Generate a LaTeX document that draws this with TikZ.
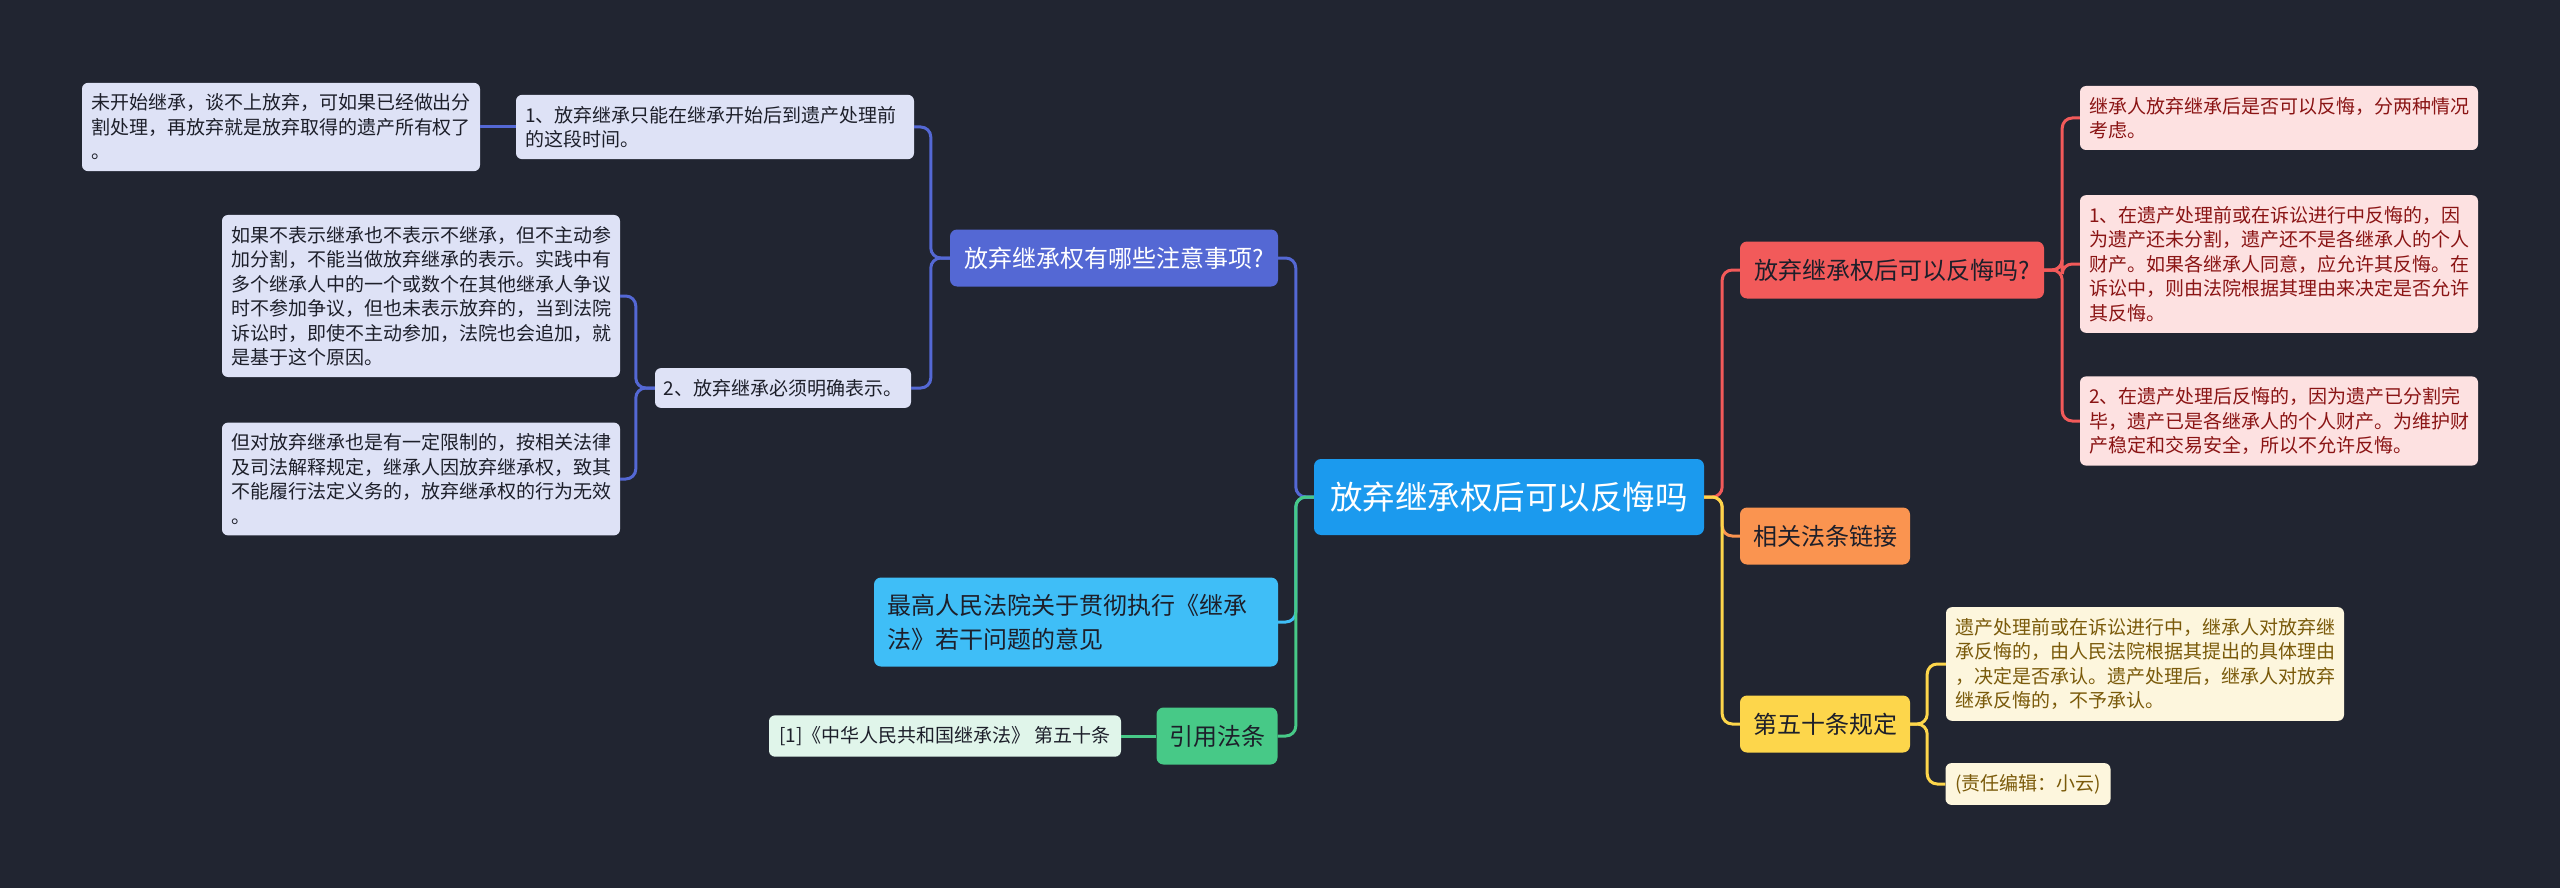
\documentclass[tikz,border=0pt]{standalone}
\usepackage{fontspec}
\setmainfont{Noto Sans CJK SC}

\definecolor{canvas}{HTML}{212531}
\definecolor{rootblue}{HTML}{1B9AEE}
\definecolor{qblue}{HTML}{5468D4}
\definecolor{qpale}{HTML}{DEE2F6}
\definecolor{lawblue}{HTML}{3FBEF7}
\definecolor{citegreen}{HTML}{47C987}
\definecolor{citepale}{HTML}{E0F5EA}
\definecolor{askred}{HTML}{F25A5A}
\definecolor{askpale}{HTML}{FDE1E1}
\definecolor{askink}{HTML}{8A1414}
\definecolor{linkorange}{HTML}{FA9450}
\definecolor{ruleyellow}{HTML}{FDD64B}
\definecolor{rulepale}{HTML}{FDF6DD}
\definecolor{ruleink}{HTML}{7A5A0A}
\definecolor{ink}{HTML}{1D1F2A}

\begin{document}
\begin{tikzpicture}[x=1pt,
            y=-1pt,
            box/.style={rounded corners=7pt, inner sep=0pt, align=center, text=ink},
            root/.style={box, fill=rootblue, text=white, minimum width=390pt,
                         minimum height=76pt, font=\fontsize{32.5pt}{38pt}\selectfont},
            topic/.style={box, minimum height=57pt, font=\fontsize{24pt}{34pt}\selectfont},
            leaf/.style={rounded corners=6pt, inner xsep=9pt, inner ysep=11pt,
                         text width=380pt, align=left, font=\fontsize{19pt}{24.5pt}\selectfont},
            bleaf/.style={leaf, fill=qpale, text=ink},
            rleaf/.style={leaf, fill=askpale, text=askink},
            yleaf/.style={leaf, fill=rulepale, text=ruleink},
            elbow/.style={to path={-- ++(#1,0) |- (\tikztotarget)}},
            link/.style={line width=3pt, rounded corners=10pt}]

        \fill[canvas] (0,0) rectangle (2560,888);
        \useasboundingbox (0,0) rectangle (2560,888);

        \node[root] (root) at (1509,497) {放弃继承权后可以反悔吗};

        % left side
        \node[topic, fill=qblue, text=white, minimum width=328pt] (care) at (1114,258) {放弃继承权有哪些注意事项?};
        \node[topic, fill=lawblue, text width=378pt, inner xsep=13pt, align=left,
              minimum height=89pt]                              (law)  at (1076,622) {最高人民法院关于贯彻执行《继承\\法》若干问题的意见};
        \node[topic, fill=citegreen, minimum width=121pt]     (cite) at (1217,736) {引用法条};

        \node[bleaf] (timing) at (715,127) {1、放弃继承只能在继承开始后到遗产处理前\\的这段时间。};
        \node[bleaf] (before) at (281,127) {未开始继承，谈不上放弃，可如果已经做出分\\割处理，再放弃就是放弃取得的遗产所有权了\\。};
        \node[bleaf, text width=, inner xsep=4pt, minimum width=256pt] (clear) at (783,388) {2、放弃继承必须明确表示。};
        \node[bleaf] (silent) at (421,296) {如果不表示继承也不表示不继承，但不主动参\\加分割，不能当做放弃继承的表示。实践中有\\多个继承人中的一个或数个在其他继承人争议\\时不参加争议，但也未表示放弃的，当到法院\\诉讼时，即使不主动参加，法院也会追加，就\\是基于这个原因。};
        \node[bleaf] (limit)  at (421,479) {但对放弃继承也是有一定限制的，按相关法律\\及司法解释规定，继承人因放弃继承权，致其\\不能履行法定义务的，放弃继承权的行为无效\\。};
        \node[leaf, fill=citepale, text=ink, text width=, inner xsep=4pt, minimum width=352pt] (article) at (945,736) {[1]《中华人民共和国继承法》 第五十条};

        % right side
        \node[topic, fill=askred, minimum width=304pt]        (ask)   at (1892,270) {放弃继承权后可以反悔吗?};
        \node[topic, fill=linkorange, minimum width=170pt]    (links) at (1825,536) {相关法条链接};
        \node[topic, fill=ruleyellow, minimum width=170pt]    (rule)  at (1825,724) {第五十条规定};

        \node[rleaf] (twoways) at (2279,118) {继承人放弃继承后是否可以反悔，分两种情况\\考虑。};
        \node[rleaf] (undone)  at (2279,264) {1、在遗产处理前或在诉讼进行中反悔的，因\\为遗产还未分割，遗产还不是各继承人的个人\\财产。如果各继承人同意，应允许其反悔。在\\诉讼中，则由法院根据其理由来决定是否允许\\其反悔。};
        \node[rleaf] (done)    at (2279,421) {2、在遗产处理后反悔的，因为遗产已分割完\\毕，遗产已是各继承人的个人财产。为维护财\\产稳定和交易安全，所以不允许反悔。};
        \node[yleaf] (court)   at (2145,664) {遗产处理前或在诉讼进行中，继承人对放弃继\\承反悔的，由人民法院根据其提出的具体理由\\，决定是否承认。遗产处理后，继承人对放弃\\继承反悔的，不予承认。};
        \node[yleaf, text width=, inner xsep=4pt, minimum width=165pt] (editor) at (2028,784) {(责任编辑：小云)};

        \path (root.west)  edge [link, elbow=-18, draw=qblue]      (care.east)
                           edge [link, elbow=-18, draw=lawblue]    (law.east)
                           edge [link, elbow=-18, draw=citegreen]  (cite.east)
              (root.east)  edge [link, elbow=18, draw=askred]      (ask.west)
                           edge [link, elbow=18, draw=linkorange]  (links.west)
                           edge [link, elbow=18, draw=ruleyellow]  (rule.west)
              (care.west)  edge [link, elbow=-19, draw=qblue]      (timing.east)
                           edge [link, elbow=-19, draw=qblue]      (clear.east)
              (timing.west) edge [link, draw=qblue]                (before.east)
              (clear.west) edge [link, elbow=-19, draw=qblue]      (silent.east)
                           edge [link, elbow=-19, draw=qblue]      (limit.east)
              (cite.west)  edge [link, draw=citegreen]             (article.east)
              (ask.east)   edge [link, elbow=18, draw=askred]      (twoways.west)
                           edge [link, elbow=18, draw=askred]      (undone.west)
                           edge [link, elbow=18, draw=askred]      (done.west)
              (rule.east)  edge [link, elbow=17, draw=ruleyellow]  (court.west)
                           edge [link, elbow=17, draw=ruleyellow]  (editor.west);

    \end{tikzpicture}
\end{document}
